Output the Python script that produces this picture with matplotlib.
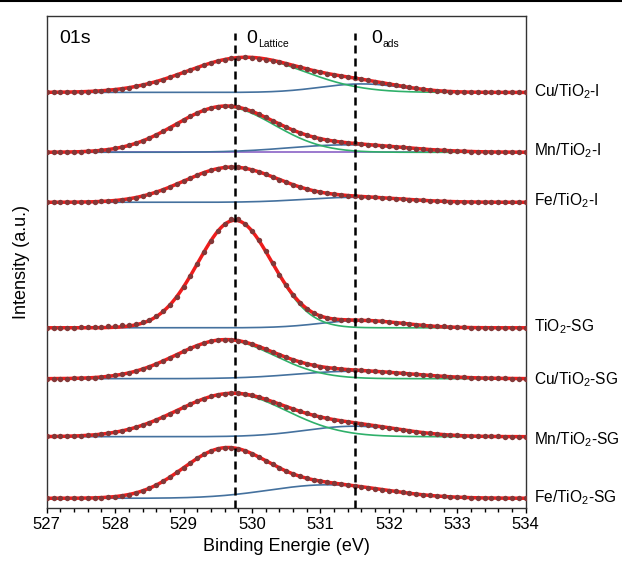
import numpy as np
import matplotlib
matplotlib.use('Agg')
import matplotlib.pyplot as plt
from matplotlib.ticker import MultipleLocator
from matplotlib.lines import Line2D

plt.rcParams['font.family'] = ['Liberation Sans', 'DejaVu Sans']
plt.rcParams['mathtext.default'] = 'regular'

# binding energy grid of the measured points (0.1 eV step)
energy = np.linspace(527.0, 534.0, 71)

samples = ['Cu/TiO$_2$-I', 'Mn/TiO$_2$-I', 'Fe/TiO$_2$-I', 'TiO$_2$-SG',
           'Cu/TiO$_2$-SG', 'Mn/TiO$_2$-SG', 'Fe/TiO$_2$-SG']

cu_i = [0.1, 0.2, 0.2, 0.3, 0.5, 0.7, 0.9, 1.2, 1.7, 2.2,
        2.9, 3.7, 4.7, 6.0, 7.4, 9.0, 10.9, 12.9, 15.2, 17.5,
        20.0, 22.5, 24.9, 27.3, 29.4, 31.3, 32.9, 34.2, 34.9, 35.0,
        34.3, 33.6, 32.6, 31.3, 30.0, 28.5, 26.8, 25.2, 23.5, 21.8,
        20.4, 18.9, 17.7, 16.5, 15.4, 14.4, 13.2, 12.1, 10.9, 9.7,
        8.5, 7.2, 6.1, 5.0, 4.0, 3.1, 2.3, 1.7, 1.3, 0.9,
        0.6, 0.4, 0.2, 0.2, 0.1, 0.1, 0.0, 0.0, 0.0, 0.0, 0.0]
mn_i = [0.1, 0.1, 0.2, 0.3, 0.4, 0.7, 1.0, 1.4, 2.0, 2.8,
        3.9, 5.2, 6.9, 8.9, 11.3, 14.2, 17.3, 20.9, 24.6, 28.4,
        32.3, 36.0, 39.3, 42.1, 44.3, 45.6, 46.3, 46.0, 45.1, 43.3,
        40.9, 38.1, 35.0, 31.6, 28.3, 25.1, 22.1, 19.5, 17.2, 15.2,
        13.6, 12.3, 11.2, 10.3, 9.5, 8.9, 8.3, 7.7, 7.1, 6.6,
        6.0, 5.5, 4.9, 4.3, 3.8, 3.3, 2.8, 2.3, 1.9, 1.6,
        1.3, 1.0, 0.8, 0.6, 0.5, 0.4, 0.3, 0.2, 0.1, 0.1, 0.1]
fe_i = [0.0, 0.1, 0.1, 0.1, 0.2, 0.3, 0.4, 0.6, 0.9, 1.3,
        1.8, 2.6, 3.5, 4.7, 6.2, 8.1, 10.2, 12.6, 15.3, 18.2,
        21.2, 24.3, 27.1, 29.8, 32.0, 33.7, 34.9, 35.2, 35.0, 34.0,
        32.5, 30.5, 28.1, 25.6, 22.8, 20.1, 17.6, 15.3, 13.3, 11.6,
        10.1, 9.0, 8.1, 7.4, 6.8, 6.3, 5.8, 5.4, 5.0, 4.5,
        4.1, 3.6, 3.2, 2.7, 2.3, 1.9, 1.6, 1.3, 1.0, 0.8,
        0.6, 0.4, 0.3, 0.2, 0.2, 0.1, 0.1, 0.0, 0.0, 0.0, 0.0]
ti_sg = [0.1, 0.0, 0.2, 0.1, 0.3, 0.4, 0.6, 0.9, 1.3, 1.6,
         2.0, 2.5, 3.2, 4.2, 6.0, 8.3, 11.8, 16.5, 23.0, 31.2,
         41.0, 52.0, 64.0, 76.0, 87.2, 96.5, 104.0, 108.5, 108.5, 104.0,
         96.7, 87.5, 76.5, 64.7, 53.0, 42.4, 33.0, 25.3, 19.2, 14.8,
         11.8, 9.9, 8.8, 8.1, 7.9, 7.8, 7.6, 7.4, 7.0, 6.5,
         5.9, 5.2, 4.4, 3.7, 3.0, 2.4, 2.0, 1.7, 1.4, 1.0,
         0.7, 0.5, 0.3, 0.2, 0.1, 0.0, 0.0, 0.0, 0.0, 0.0, 0.0]
cu_sg = [0.1, 0.1, 0.2, 0.2, 0.4, 0.6, 0.8, 1.2, 1.7, 2.4,
         3.3, 4.4, 5.8, 7.5, 9.6, 12.0, 14.7, 17.6, 20.9, 24.1,
         27.3, 30.4, 33.2, 35.6, 37.4, 38.6, 39.1, 38.9, 38.0, 36.6,
         34.6, 32.2, 29.5, 26.8, 24.1, 21.4, 19.0, 16.8, 14.9, 13.4,
         12.1, 11.1, 10.4, 9.7, 9.2, 8.7, 8.3, 7.9, 7.4, 6.9,
         6.5, 5.9, 5.4, 4.8, 4.3, 3.8, 3.3, 2.8, 2.3, 1.9,
         1.6, 1.3, 1.0, 0.8, 0.6, 0.5, 0.4, 0.3, 0.2, 0.1, 0.1]
mn_sg = [0.2, 0.2, 0.3, 0.5, 0.7, 1.0, 1.4, 1.9, 2.6, 3.4,
         4.5, 5.8, 7.4, 9.3, 11.5, 14.0, 16.7, 19.7, 22.8, 26.1,
         29.3, 32.5, 35.5, 38.0, 40.3, 41.9, 43.0, 43.5, 43.4, 42.6,
         41.3, 39.5, 37.5, 35.1, 32.6, 30.1, 27.6, 25.4, 23.2, 21.4,
         19.8, 18.3, 17.0, 15.9, 14.9, 13.9, 13.0, 12.0, 11.0, 10.0,
         8.9, 7.9, 6.9, 5.9, 5.0, 4.1, 3.3, 2.6, 2.1, 1.6,
         1.2, 0.9, 0.7, 0.5, 0.3, 0.2, 0.2, 0.1, 0.1, 0.0, 0.0]
fe_sg = [0.0, 0.0, 0.0, 0.1, 0.1, 0.2, 0.3, 0.4, 0.7, 1.1,
         1.7, 2.6, 3.7, 5.4, 7.5, 10.0, 13.2, 17.0, 21.2, 25.8,
         30.5, 35.4, 39.9, 43.9, 47.2, 49.5, 50.7, 50.7, 49.6, 47.5,
         44.7, 41.3, 37.6, 34.0, 30.4, 27.2, 24.4, 22.0, 20.1, 18.4,
         17.1, 16.1, 15.1, 14.2, 13.4, 12.5, 11.7, 10.7, 9.7, 8.7,
         7.7, 6.8, 5.9, 5.0, 4.2, 3.5, 2.9, 2.3, 1.8, 1.4,
         1.1, 0.9, 0.6, 0.5, 0.4, 0.3, 0.2, 0.1, 0.1, 0.1, 0.0]
spectra = [cu_i, mn_i, fe_i, ti_sg, cu_sg, mn_sg, fe_sg]

# fitted components (gaussian): O lattice and O adsorbed
lat_center = [529.9, 529.6, 529.7, 529.75, 529.6, 529.7, 529.6]
lat_height = [35.0, 45.5, 35.0, 107.5, 38.5, 43.0, 47.8]
lat_sigma = [0.85, 0.72, 0.70, 0.54, 0.72, 0.80, 0.62]
ads_center = [531.6, 531.4, 531.5, 531.6, 531.5, 531.5, 531.1]
ads_height = [8.5, 7.5, 5.0, 7.3, 7.5, 10.5, 13.5]
ads_sigma = [0.60, 0.85, 0.72, 0.60, 0.85, 0.72, 0.85]
show_lattice = [True, True, False, True, True, True, False]

# vertical stacking of the curves and label heights
stack_offset = [415.6, 355.7, 305.7, 180.2, 129.3, 71.3, 9.7]
label_y = [416.0, 357.3, 307.3, 181.3, 128.0, 68.0, 10.0]

peak_lines = [529.75, 531.5]


def gauss(e, c, h, s):
    return h * np.exp(-(e - c) ** 2 / (2 * s ** 2))


fig = plt.figure(figsize=(6.22, 5.64), dpi=100)
ax = fig.add_axes([0.0751, 0.0993, 0.7701, 0.8723])

e_fit = np.linspace(527.0, 534.0, 701)
for k, name in enumerate(samples):
    off = stack_offset[k]
    lat = gauss(e_fit, lat_center[k], lat_height[k], lat_sigma[k])
    ads = gauss(e_fit, ads_center[k], ads_height[k], ads_sigma[k])
    if k == 1:
        ax.plot(e_fit, np.full_like(e_fit, off), color='#8a62c6', lw=1.2, zorder=2)
    ax.plot(e_fit, off + ads, color='#44719e', lw=1.2, zorder=2)
    if show_lattice[k]:
        ax.plot(e_fit, off + lat, color='#2fb06a', lw=1.2, zorder=2)
    ax.plot(e_fit, off + lat + ads, color='#ee1c1c', lw=2.5, zorder=3)
    ax.plot(energy, off + np.array(spectra[k]), 'o', color='#823838',
            ms=3.9, mec='none', zorder=4)
    ax.annotate(name, xy=(1.0, label_y[k]), xycoords=('axes fraction', 'data'),
                xytext=(6, 0), textcoords='offset points', va='center',
                ha='left', fontsize=11.2, annotation_clip=False)

for x in peak_lines:
    ax.plot([x, x], [0, 475], color='black', lw=1.8, dashes=(3.2, 2.0), zorder=5)

ax.text(527.18, 465.3, '01s', fontsize=14, va='baseline')
ax.text(529.92, 465.3, '0', fontsize=14, va='baseline')
ax.text(530.09, 461.3, 'Lattice', fontsize=7.5, va='baseline')
ax.text(531.74, 465.3, '0', fontsize=14, va='baseline')
ax.text(531.91, 461.3, 'ads', fontsize=7.5, va='baseline')

ax.set_xlim(527, 534)
ax.set_ylim(0, 492)
ax.set_yticks([])
ax.xaxis.set_major_locator(MultipleLocator(1))
ax.xaxis.set_minor_locator(MultipleLocator(0.2))
ax.tick_params(axis='x', which='major', length=3.8, width=1.0, labelsize=12, pad=3)
ax.tick_params(axis='x', which='minor', length=3.0, width=1.0)
for sp in ax.spines.values():
    sp.set_linewidth(1.0)
    sp.set_color('#333333')
ax.set_xlabel('Binding Energie (eV)', fontsize=13, labelpad=4)
ax.set_ylabel('Intensity (a.u.)', fontsize=13, labelpad=12)

fig.add_artist(Line2D([0, 1], [0.999, 0.999], transform=fig.transFigure,
                      color='black', lw=1.5))

fig.savefig('out.png', dpi=100)
